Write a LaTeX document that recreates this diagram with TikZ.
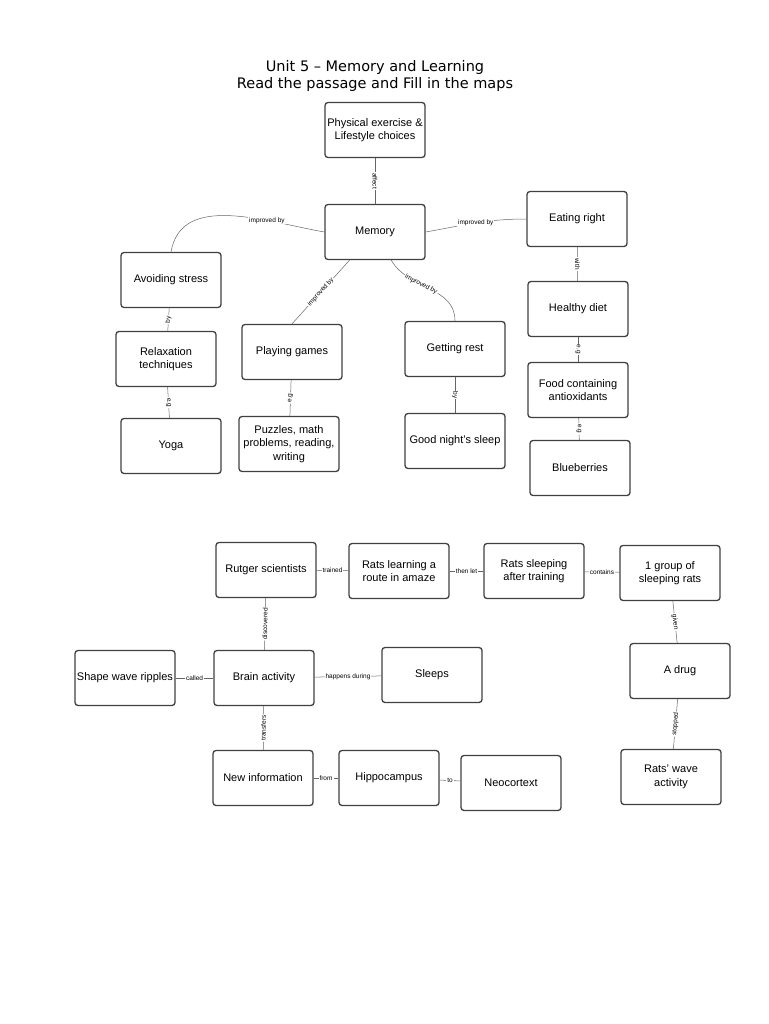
\documentclass[tikz,border=0pt]{standalone}
\usepackage{fontspec}
\setmainfont{Liberation Sans}
\newfontfamily\titlefont{DejaVu Sans}
\begin{document}
\begin{tikzpicture}[x=1pt,y=1pt,
    box/.style={draw=black!75, line width=1.3pt, rounded corners=3pt, minimum width=100pt, minimum height=55pt, align=center, font=\fontsize{11}{13.5}\selectfont, inner sep=1pt},
    lbl/.style={fill=white, inner sep=1pt, font=\fontsize{6.5}{7}\selectfont},
    link/.style={draw=black!60, line width=0.5pt}]
    \useasboundingbox (0,0) rectangle (768,-1024);

    %Titulo
    \node[font=\titlefont\fontsize{14.5}{17}\selectfont, align=center] (title) at (375,-76) {Unit 5 – Memory and Learning\\Read the passage and Fill in the maps};

    %Mapa 1
    \node[box] (phys) at (375,-130) {Physical exercise \&\\Lifestyle choices};
    \node[box] (mem) at (375,-232) {Memory};
    \node[box] (eat) at (577,-219) {Eating right};
    \node[box] (stress) at (171,-280) {Avoiding stress};
    \node[box] (relax) at (166,-359) {Relaxation\\techniques};
    \node[box] (yoga) at (171,-446) {Yoga};
    \node[box] (games) at (292,-352) {Playing games};
    \node[box] (puzzles) at (289,-444) {Puzzles, math\\problems, reading,\\writing};
    \node[box] (rest) at (455,-349) {Getting rest};
    \node[box] (night) at (455,-441) {Good night's sleep};
    \node[box] (diet) at (578,-309) {Healthy diet};
    \node[box] (food) at (578,-390) {Food containing\\antioxidants};
    \node[box] (blue) at (580,-468) {Blueberries};

    \draw[link] (phys) -- node[lbl, sloped] {affect} (mem);
    \draw[link] (mem.west) to[out=170, in=80] node[lbl, pos=0.3] {improved by} (stress.north);
    \draw[link] (mem.east) to[out=10, in=180] node[lbl, pos=0.5] {improved by} (eat.west);
    \draw[link] (mem) -- node[lbl, sloped] {improved by} (games.north);
    \draw[link] (mem) to[out=-60, in=90] node[lbl, sloped, pos=0.4] {improved by} (rest.north);
    \draw[link] (stress) -- node[lbl, sloped] {by} (relax);
    \draw[link] (relax) -- node[lbl, sloped] {e.g} (yoga);
    \draw[link] (games) -- node[lbl, sloped] {e.g} (puzzles);
    \draw[link] (rest) -- node[lbl, sloped] {by} (night);
    \draw[link] (eat) -- node[lbl, sloped] {with} (diet);
    \draw[link] (diet) -- node[lbl, sloped] {e.g} (food);
    \draw[link] (food) -- node[lbl, sloped] {e.g} (blue);

    %Mapa 2
    \node[box] (rutger) at (266,-570) {Rutger scientists};
    \node[box] (learn) at (399,-571) {Rats learning a\\route in amaze};
    \node[box] (sleeping) at (534,-571) {Rats sleeping\\after training};
    \node[box] (group) at (670,-573) {1 group of\\sleeping rats};
    \node[box] (shape) at (125,-678) {Shape wave ripples};
    \node[box] (brain) at (264,-678) {Brain activity};
    \node[box] (sleeps) at (432,-675) {Sleeps};
    \node[box] (drug) at (680,-671) {A drug};
    \node[box] (newinfo) at (263,-778) {New information};
    \node[box] (hippo) at (389,-778) {Hippocampus};
    \node[box] (neo) at (511,-783) {Neocortext};
    \node[box] (wave) at (671,-777) {Rats' wave\\activity};

    \draw[link] (rutger) -- node[lbl] {trained} (learn);
    \draw[link] (learn) -- node[lbl] {then let} (sleeping);
    \draw[link] (sleeping) -- node[lbl] {contains} (group);
    \draw[link] (rutger) -- node[lbl, sloped] {discovered} (brain);
    \draw[link] (brain) -- node[lbl] {called} (shape);
    \draw[link] (brain) -- node[lbl] {happens during} (sleeps);
    \draw[link] (brain) -- node[lbl, sloped] {transfers} (newinfo);
    \draw[link] (newinfo) -- node[lbl] {from} (hippo);
    \draw[link] (hippo) -- node[lbl] {to} (neo);
    \draw[link] (group) -- node[lbl, sloped] {given} (drug);
    \draw[link] (drug) -- node[lbl, sloped] {stopped} (wave);
\end{tikzpicture}
\end{document}
